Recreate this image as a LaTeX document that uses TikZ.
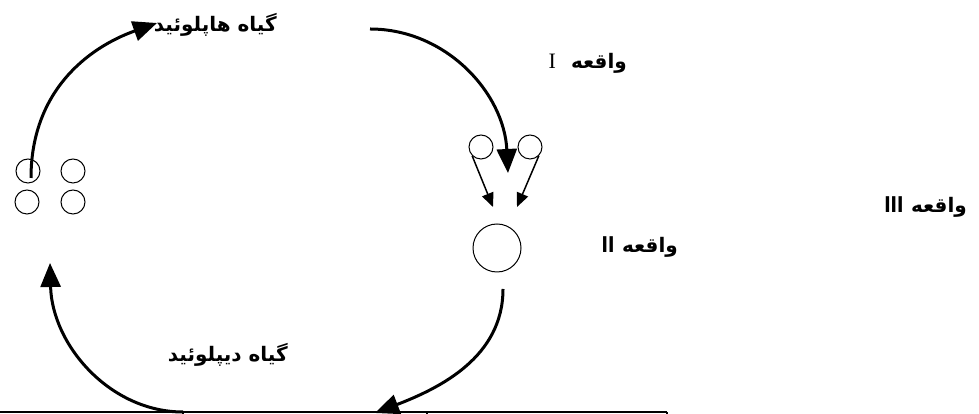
\documentclass[tikz,border=0pt]{standalone}
\usepackage{fontspec}
\usetikzlibrary{arrows.meta}
\TeXXeTstate=1
\newfontfamily\arabicfont[Script=Arabic]{DejaVu Sans}
\newfontfamily\romanfont{Liberation Serif}
\newfontfamily\numfont{Liberation Sans}
\tikzset{
  cell/.style={draw,circle,line width=1pt,inner sep=0pt,minimum size=24pt},
  cyclearrow/.style={line width=3pt,-{Triangle[length=24pt,width=20pt]}},
  splitarrow/.style={line width=1.5pt,-{Triangle[length=14pt,width=12pt]}},
  lab/.style={inner sep=0pt,anchor=east,font=\fontsize{20}{24}\selectfont\bfseries}
}
\begin{document}
\begin{tikzpicture}[x=1pt,y=1pt]
  \useasboundingbox (0,0) rectangle (979,414);
  % four haploid spores
  \foreach \x/\y/\n in {28/243/a,73/243/b,27/212/c,73/212/d}{
    \node[cell] (spore-\n) at (\x,\y) {};
  }
  % meiosis and zygote
  \node[cell] (mei-l) at (481,267) {};
  \node[cell] (mei-r) at (530,267) {};
  \node[cell,minimum size=48pt] (zyg) at (497,166) {};
  % labels
  \node[lab] (hap) at (277,389) {\arabicfont\beginR گیاه هاپلوئید\endR};
  \node[lab] (evI) at (627,351) {\beginR{\arabicfont واقعه}\ \ {\romanfont\mdseries\fontsize{22}{24}\selectfont I}\endR};
  \node[lab] (evII) at (678,167) {\beginR{\arabicfont واقعه}\ {\numfont\fontsize{23}{24}\selectfont II}\endR};
  \node[lab] (evIII) at (967,207) {\beginR{\arabicfont واقعه}\ {\numfont\fontsize{23}{24}\selectfont III}\endR};
  \node[lab] (dip) at (288,59) {\arabicfont\beginR گیاه دیپلوئید\endR};
  % ends of the cycle arrows
  \coordinate (s1) at (31,236);
  \coordinate (t1) at (157,391);
  \coordinate (s2) at (370,385);
  \coordinate (t2) at (508,241);
  \coordinate (s3) at (503,125);
  \coordinate (t3) at (375,1);
  \coordinate (s4) at (183,2);
  \coordinate (t4) at (50,151);
  \coordinate (in-l) at (493,207);
  \coordinate (in-r) at (517,207);
  \draw[cyclearrow] (s1) .. controls +(0,86) and +(-70,-25) .. (t1);
  \draw[cyclearrow] (s2) .. controls +(76,0) and +(-4,80) .. (t2);
  \draw[cyclearrow] (s3) .. controls +(0,-68) and +(65,25) .. (t3);
  \draw[cyclearrow] (s4) .. controls +(-73,0) and +(2,-82) .. (t4);
  \draw[splitarrow] (mei-l.225) -- (in-l);
  \draw[splitarrow] (mei-r.315) -- (in-r);
  % top edge of the table
  \draw[line width=1.2pt] (0,2) -- (667,2);
  \foreach \x in {183,427,667}{
    \draw[line width=1.2pt] (\x,2) -- (\x,0);
  }
\end{tikzpicture}
\end{document}
